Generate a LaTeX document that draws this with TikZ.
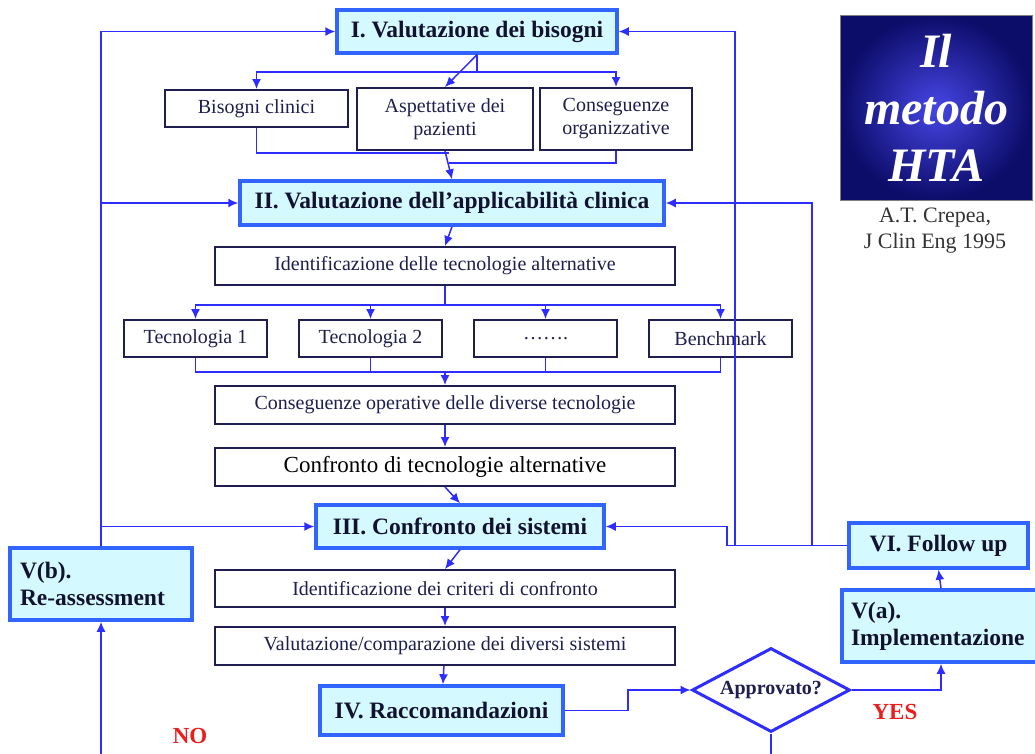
\documentclass[tikz,border=0pt]{standalone}
\usepackage{fontspec}
\setmainfont{Liberation Serif}
\usetikzlibrary{shapes.geometric,arrows.meta}
\definecolor{flow}{RGB}{45,45,255}
\definecolor{frame}{RGB}{50,100,255}
\definecolor{pale}{RGB}{212,250,255}
\definecolor{ink}{RGB}{30,30,80}
\definecolor{htadark}{RGB}{12,12,105}
\definecolor{htalight}{RGB}{70,70,230}
\definecolor{answer}{RGB}{235,30,30}

\begin{document}
\begin{tikzpicture}[x=1pt, y=-1pt,
    phase/.style={draw=frame, line width=3.5pt, fill=pale, text=ink!60!black, font=\fontsize{23.5}{27}\selectfont\bfseries, inner sep=0pt},
    sub/.style={draw=ink, line width=2pt, fill=white, text=ink, font=\fontsize{20}{23}\selectfont, align=center, inner sep=0pt},
    arr/.style={-{Latex[length=10pt,width=9pt]}, flow, line width=1.5pt},
    ln/.style={flow, line width=1.5pt}
]
\useasboundingbox (0,0) rectangle (1035,753);

% Phase I and its three needs
\node[phase, minimum width=280, minimum height=43] (bis) at (477,31.5) {I. Valutazione dei bisogni};
\node[sub, minimum width=183, minimum height=37] (clin) at (256.5,108.5) {Bisogni clinici};
\node[sub, minimum width=176, minimum height=62] (asp) at (445,119) {Aspettative dei\\pazienti};
\node[sub, minimum width=152, minimum height=62] (org) at (616,119) {Conseguenze\\organizzative};

% Phase II
\node[phase, minimum width=424, minimum height=44] (app) at (452,203) {II. Valutazione dell’applicabilità clinica};
\node[sub, minimum width=460, minimum height=38] (ident) at (445,266) {Identificazione delle tecnologie alternative};
\node[sub, minimum width=143, minimum height=37] (tec1) at (195.5,338.5) {Tecnologia 1};
\node[sub, minimum width=143, minimum height=37] (tec2) at (370.5,338.5) {Tecnologia 2};
\node[sub, minimum width=143, minimum height=37] (dots) at (545.5,338.5) {…….};
\node[sub, minimum width=143, minimum height=37] (bench) at (720.5,338.5) {Benchmark};
\node[sub, minimum width=460, minimum height=38] (opcons) at (445,405) {Conseguenze operative delle diverse tecnologie};
\node[sub, minimum width=460, minimum height=38, font=\fontsize{23}{26}\selectfont, text=black] (conftec) at (445,467) {Confronto di tecnologie alternative};

% Phase III and IV
\node[phase, minimum width=288, minimum height=43] (sys) at (460,526.5) {III. Confronto dei sistemi};
\node[sub, minimum width=460, minimum height=37] (crit) at (445,588.5) {Identificazione dei criteri di confronto};
\node[sub, minimum width=460, minimum height=38] (valut) at (445,646) {Valutazione/comparazione dei diversi sistemi};
\node[phase, minimum width=243, minimum height=49] (racc) at (441.5,710.5) {IV. Raccomandazioni};

% Decision
\node[diamond, aspect=1.9, draw=flow, line width=3pt, fill=white, minimum width=158, minimum height=84, inner sep=0pt, text=ink, font=\fontsize{20}{23}\selectfont\bfseries] (appr) at (771,690) {Approvato?};
\node[text=answer, font=\fontsize{23}{27}\selectfont\bfseries] (yes) at (895,712) {YES};
\node[text=answer, font=\fontsize{23}{27}\selectfont\bfseries] (no) at (190,736) {NO};

% Phase V and VI
\node[phase, minimum width=182, minimum height=72, text width=162, align=left] (reass) at (101,584) {V(b).\\Re-assessment};
\node[phase, minimum width=198, minimum height=72, text width=180, align=left] (vimp) at (941,626) {V(a).\\Implementazione};
\node[phase, minimum width=179, minimum height=45] (fup) at (938.5,545.5) {VI. Follow up};

% Title block
\node[draw=gray, line width=0.8pt, shading=radial, inner color=htalight, outer color=htadark, minimum width=192, minimum height=185, text=white, align=center, inner sep=0pt, font=\fontsize{48}{57}\selectfont\bfseries\itshape] (hta) at (936,107.5) {Il\\metodo\\HTA};
\node[align=center, text=black!80, font=\fontsize{22}{26}\selectfont] (cred) at (935,231) {A.T. Crepea,\\J Clin Eng 1995};

% helper points
\coordinate (fan) at (477,72);
\coordinate (join1) at (449,153);
\coordinate (join2) at (449,163);
\coordinate (split) at (445,305);
\coordinate (merge) at (445,372);
\coordinate (kink) at (628,710.5);
\coordinate (step) at (727,545.5);
\coordinate (rup1) at (735,545.5);
\coordinate (rup2) at (812,545.5);
\coordinate (lowL) at (101,760);
\coordinate (lowR) at (771,760);

% top fan
\draw[ln] (bis.south) -- (fan);
\draw[arr] (fan) -| (clin.north);
\draw[arr] (fan) -| (org.north);
\draw[arr] (bis.south) -- (asp.north);
\draw[ln] (clin.south) |- (join1);
\draw[ln] (org.south) |- (join2);
\draw[arr] (asp.south) -- (app.north);

% technologies
\draw[arr] (app.south) -- (ident.north);
\draw[ln] (ident.south) -- (split);
\draw[arr] (split) -| (tec1.north);
\draw[arr] (split) -| (tec2.north);
\draw[arr] (split) -| (dots.north);
\draw[arr] (split) -| (bench.north);
\draw[ln] (tec1.south) |- (merge);
\draw[ln] (tec2.south) |- (merge);
\draw[ln] (dots.south) |- (merge);
\draw[ln] (bench.south) |- (merge);
\draw[arr] (merge) -- (opcons.north);
\draw[arr] (opcons) -- (conftec);
\draw[arr] (conftec.south) -- (sys.north);

% systems
\draw[arr] (sys.south) -- (crit.north);
\draw[arr] (crit) -- (valut);
\draw[arr] (valut) -- (racc);
\draw[arr] (racc.east) -- (kink) |- (appr.west);
\draw[arr] (appr.east) -| (vimp.south);
\draw[arr] (vimp.north) -- (fup.south);
\draw[ln] (appr.south) -- (lowR);

% feedback loops
\draw[arr] (lowL) -- (reass.south);
\draw[arr] (reass.north) |- (bis.west);
\draw[arr] (reass.north) |- (app.west);
\draw[arr] (reass.north) |- (sys.west);
\draw[arr] (fup.west) -- (step) |- (sys.east);
\draw[arr] (rup1) |- (bis.east);
\draw[arr] (rup2) |- (app.east);
\end{tikzpicture}
\end{document}
